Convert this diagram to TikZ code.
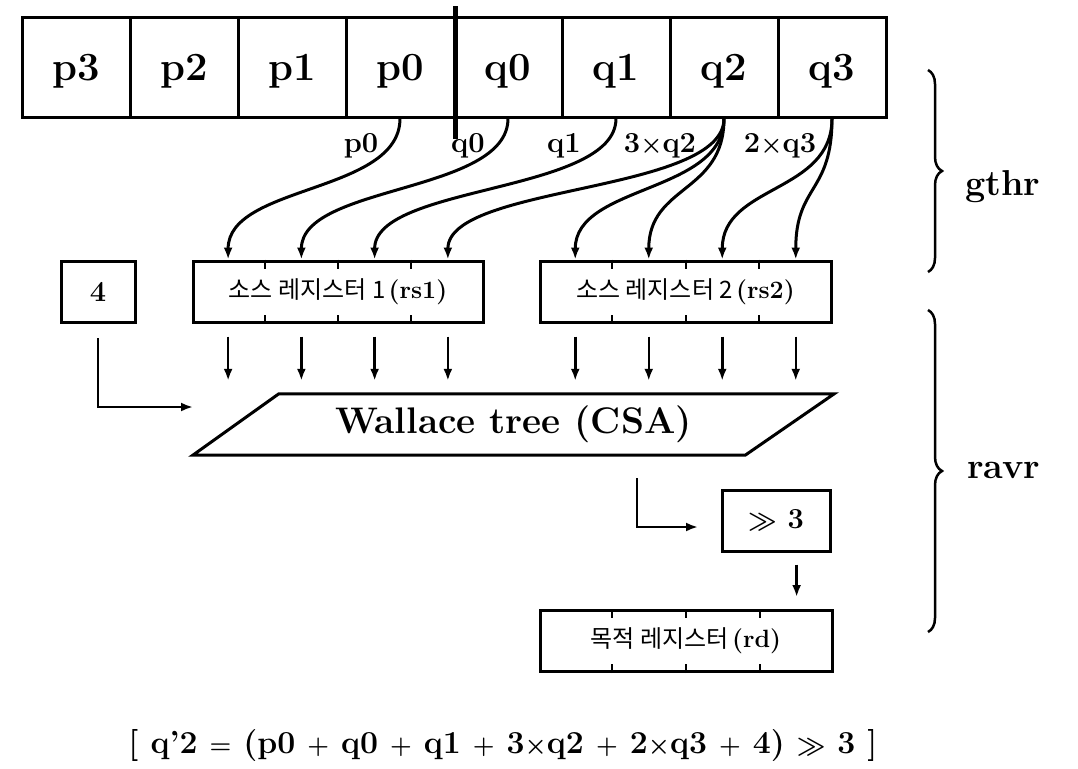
\documentclass[tikz,border=0pt]{standalone}
\usepackage{amsmath}
\usepackage{fontspec}
\usepackage{graphicx}
\newfontfamily\kr{Noto Sans CJK KR}
\usetikzlibrary{arrows.meta,calc,decorations.pathreplacing}
\newcommand{\bm}[1]{$\boldsymbol{#1}$}
\begin{document}
\begin{tikzpicture}[x=1pt,y=1pt,
  cell/.style={draw,line width=3pt,minimum width=108pt,minimum height=99pt,inner sep=0pt,
    font=\fontsize{40}{40}\selectfont\bfseries,text height=34pt,text depth=8pt},
  reg/.style={draw,line width=3pt,minimum height=61pt,inner sep=0pt},
  numbox/.style={draw,line width=3pt,minimum height=61pt,inner sep=0pt,font=\fontsize{29}{29}\selectfont\bfseries},
  lab/.style={font=\fontsize{29}{29}\selectfont\bfseries,anchor=base,inner sep=0pt},
  side/.style={font=\fontsize{36}{36}\selectfont\bfseries,inner sep=0pt},
  arr/.style={line width=2.5pt,-{Latex[length=12pt,width=9pt]}},
  curve/.style={line width=3pt,-{Latex[length=12pt,width=9pt]}},
  tick/.style={line width=2pt},
  brc/.style={line width=2.5pt,decorate,decoration={brace,amplitude=14pt}}]
\useasboundingbox (0,0) rectangle (1078,-768);

% top register
\node[cell] (p3) at (76,-67.5) {p3};
\node[cell] (p2) at (184,-67.5) {p2};
\node[cell] (p1) at (292,-67.5) {p1};
\node[cell] (p0) at (400,-67.5) {p0};
\node[cell] (q0) at (508,-67.5) {q0};
\node[cell] (q1) at (616,-67.5) {q1};
\node[cell] (q2) at (724,-67.5) {q2};
\node[cell] (q3) at (832,-67.5) {q3};
\draw[line width=4.5pt] ($(p0.north east)+(0,10)$) -- ($(p0.south east)+(0,-20)$);

% labels under register
\node[lab] (lp0) at (361,-152) {p0};
\node[lab] (lq0) at (468,-152) {q0};
\node[lab] (lq1) at (564,-152) {q1};
\node[lab] (lq2) at (660,-152) {3\bm{\times}q2};
\node[lab] (lq3) at (780,-152) {2\bm{\times}q3};

% source registers
\node[reg,minimum width=290pt] (rs1) at (338,-291.5)
  {{\kr\fontsize{24}{24}\selectfont 소스 레지스터 1} {\fontsize{25}{25}\selectfont\bfseries (rs1)}};
\node[reg,minimum width=291pt] (rs2) at (685.5,-291.5)
  {{\kr\fontsize{24}{24}\selectfont 소스 레지스터 2} {\fontsize{25}{25}\selectfont\bfseries (rs2)}};
\node[reg,minimum width=292pt] (rd) at (686,-641)
  {{\kr\fontsize{24}{24}\selectfont 목적 레지스터} {\fontsize{25}{25}\selectfont\bfseries (rd)}};
\node[numbox,minimum width=74pt] (four) at (98,-292) {4};
\node[numbox,minimum width=108pt] (sh) at (776,-520.5) {\bm{\gg} 3};

\foreach \n in {rs1,rs2,rd}{
  \foreach \f in {0.25,0.5,0.75}{
    \draw[tick] ($(\n.north west)!\f!(\n.north east)$) -- ++(0,-9);
    \draw[tick] ($(\n.south west)!\f!(\n.south east)$) -- ++(0,9);
  }
  \foreach \k/\f in {1/0.125,2/0.375,3/0.625,4/0.875}{
    \coordinate (\n-\k) at ($(\n.north west)!\f!(\n.north east)$);
  }
}

% Wallace tree
\node[minimum width=641pt,minimum height=61pt,inner sep=0pt,
  font=\fontsize{37}{37}\selectfont\bfseries] (wal) at (513.5,-424.5) {Wallace tree (CSA)};
\draw[line width=3pt,line join=miter] (wal.south west) -- ($(wal.north west)+(86,0)$)
  -- (wal.north east) -- ($(wal.south east)+(-89,0)$) -- cycle;

% gather curves
\draw[curve] (p0.south) .. controls +(0,-75) and +(0,75) .. (rs1-1);
\draw[curve] (q0.south) .. controls +(0,-75) and +(0,75) .. (rs1-2);
\draw[curve] (q1.south) .. controls +(0,-75) and +(0,75) .. (rs1-3);
\draw[curve] (q2.south) .. controls +(0,-75) and +(0,75) .. (rs1-4);
\draw[curve] (q2.south) .. controls +(0,-75) and +(0,75) .. (rs2-1);
\draw[curve] (q2.south) .. controls +(0,-75) and +(0,75) .. (rs2-2);
\draw[curve] (q3.south) .. controls +(0,-75) and +(0,75) .. (rs2-3);
\draw[curve] (q3.south) .. controls +(0,-75) and +(0,75) .. (rs2-4);

% arrows into Wallace tree
\foreach \n in {rs1,rs2}{
  \foreach \k in {1,2,3,4}{
    \draw[arr,shorten <=13pt,shorten >=13pt] (\n-\k |- \n.south) -- (\n-\k |- wal.north);
  }
}
\coordinate (in4) at (193,-407);
\draw[arr,shorten <=14pt] (four.south) |- (in4);

\coordinate (wout) at (637,-478);
\coordinate (shin) at (698,-527);
\draw[arr] (wout) |- (shin);
\draw[arr,shorten <=12pt,shorten >=12pt] (rd-4 |- sh.south) -- (rd-4);

% braces
\draw[brc] (928,-70) -- (928,-272);
\draw[brc] (928,-310) -- (928,-632);
\node[side,anchor=west] (gthr) at (965,-187) {gthr};
\node[side,anchor=west] (ravr) at (967,-470) {ravr};

% formula
\node[font=\fontsize{32}{32}\selectfont\bfseries,inner sep=0pt] (eq) at (503,-746)
  {[ q'2 \bm{=} (p0 \bm{+} q0 \bm{+} q1 \bm{+} 3\bm{\times}q2 \bm{+} 2\bm{\times}q3 \bm{+} 4) \bm{\gg} 3 ]};
\end{tikzpicture}
\end{document}
